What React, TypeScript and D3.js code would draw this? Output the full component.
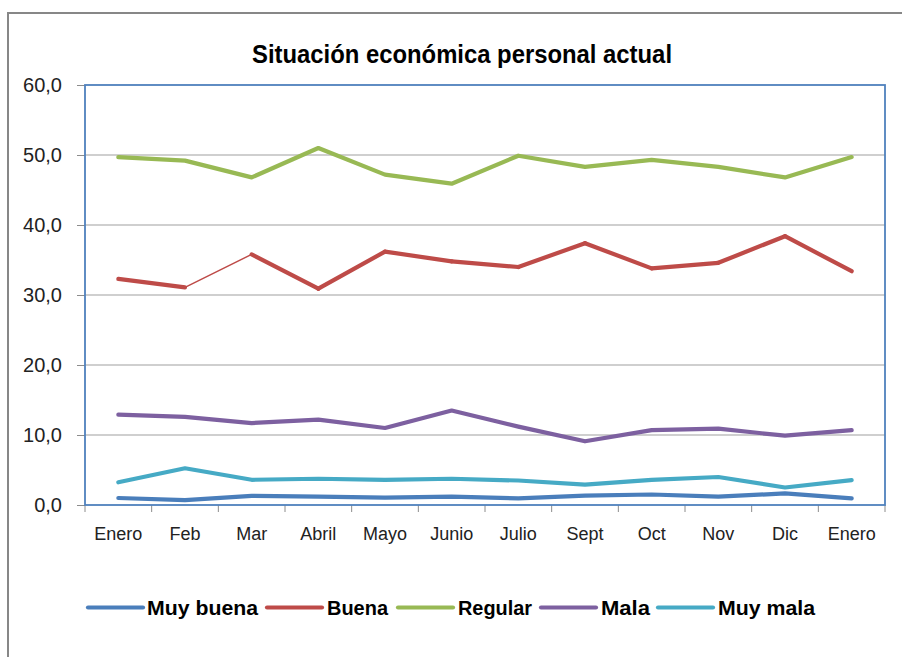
import { useEffect, useRef } from "react";
import * as d3 from "d3";

// Meses (eje X)
const months = ["Enero", "Feb", "Mar", "Abril", "Mayo", "Junio", "Julio", "Sept", "Oct", "Nov", "Dic", "Enero"];

// Series
const muyBuena = [1.0, 0.7, 1.3, 1.2, 1.05, 1.2, 0.95, 1.35, 1.5, 1.2, 1.65, 0.95];
const buena = [32.3, 31.1, 35.8, 30.9, 36.2, 34.8, 34.0, 37.4, 33.8, 34.6, 38.4, 33.4];
const regular = [49.7, 49.2, 46.8, 51.0, 47.2, 45.9, 49.9, 48.3, 49.3, 48.3, 46.8, 49.7];
const mala = [12.9, 12.6, 11.7, 12.2, 11.0, 13.5, 11.2, 9.1, 10.7, 10.9, 9.9, 10.7];
const muyMala = [3.25, 5.25, 3.6, 3.75, 3.6, 3.75, 3.5, 2.9, 3.6, 4.0, 2.5, 3.55];

const seriesNames = ["Muy buena", "Buena", "Regular", "Mala", "Muy mala"];
const yTicks = [0, 10, 20, 30, 40, 50, 60];

const colors = ["#4A7EBB", "#BE4B48", "#98B954", "#7D60A0", "#46AAC5"];

export default function App() {
  const ref = useRef<SVGSVGElement>(null);

  useEffect(() => {
    if (!ref.current) return;
    const svg = d3.select(ref.current);
    svg.selectAll("*").remove();

    const W = 902;
    const H = 657;
    const left = 85, right = 885, top = 85, bottom = 505;
    const font = "'Liberation Sans', Arial, sans-serif";

    svg.append("rect").attr("width", W).attr("height", H).attr("fill", "#fff");

    // borde del gráfico
    svg
      .append("rect")
      .attr("x", 8)
      .attr("y", 13)
      .attr("width", 1000)
      .attr("height", 1000)
      .attr("fill", "none")
      .attr("stroke", "#878787")
      .attr("stroke-width", 2);

    // título
    svg
      .append("text")
      .attr("x", 252)
      .attr("y", 63)
      .attr("textLength", 420)
      .attr("lengthAdjust", "spacingAndGlyphs")
      .attr("font-family", font)
      .attr("font-weight", "bold")
      .attr("font-size", 25)
      .attr("fill", "#000")
      .text("Situación económica personal actual");

    const x = d3
      .scaleBand<number>()
      .domain(months.map((_, i) => i))
      .range([left, right]);

    const y = d3.scaleLinear().domain([0, 60]).range([bottom, top]);

    // líneas de cuadrícula
    svg
      .append("g")
      .selectAll("line")
      .data(yTicks.filter((t) => t > 0 && t < 60))
      .enter()
      .append("line")
      .attr("x1", left)
      .attr("x2", right)
      .attr("y1", (d) => y(d))
      .attr("y2", (d) => y(d))
      .attr("stroke", "#A0A0A0")
      .attr("stroke-width", 1.2);

    // eje Y
    const yAxis = svg
      .append("g")
      .attr("transform", `translate(${left},0)`)
      .call(
        d3
          .axisLeft(y)
          .tickValues(yTicks)
          .tickSize(8)
          .tickPadding(15)
          .tickFormat((d) => d3.format(".1f")(d as number).replace(".", ","))
      );
    yAxis.select(".domain").remove();
    yAxis.selectAll("line").attr("stroke", "#8C8C8C");
    yAxis
      .selectAll("text")
      .attr("font-family", font)
      .attr("font-size", 20)
      .attr("fill", "#222");

    // eje X (marcas entre categorías)
    const xt = svg.append("g");
    xt.selectAll("line")
      .data(d3.range(months.length + 1))
      .enter()
      .append("line")
      .attr("x1", (i) => left + i * x.bandwidth())
      .attr("x2", (i) => left + i * x.bandwidth())
      .attr("y1", bottom)
      .attr("y2", bottom + 7)
      .attr("stroke", "#8C8C8C");
    xt.selectAll("text")
      .data(months)
      .enter()
      .append("text")
      .attr("x", (_, i) => (x(i) || 0) + x.bandwidth() / 2)
      .attr("y", 540)
      .attr("text-anchor", "middle")
      .attr("font-family", font)
      .attr("font-size", 18)
      .attr("fill", "#222")
      .text((d) => d);

    // borde del área de trazado
    svg
      .append("rect")
      .attr("x", left)
      .attr("y", top)
      .attr("width", right - left)
      .attr("height", bottom - top)
      .attr("fill", "none")
      .attr("stroke", "#4F81BD")
      .attr("stroke-width", 1.8);

    const data = [muyBuena, buena, regular, mala, muyMala];
    const cx = (i: number) => (x(i) || 0) + x.bandwidth() / 2;
    const line = d3
      .line<number>()
      .x((_, i) => cx(i))
      .y((d) => y(d));

    data.forEach((vals, s) => {
      if (s === 1) {
        // "Buena": el tramo Feb-Mar es más fino
        vals.slice(1).forEach((v, i) => {
          svg
            .append("path")
            .attr("d", d3.line<[number, number]>()([[cx(i), y(vals[i])], [cx(i + 1), y(v)]]) || "")
            .attr("fill", "none")
            .attr("stroke", colors[s])
            .attr("stroke-width", i === 1 ? 1.5 : 4.2)
            .attr("stroke-linecap", "round");
        });
      } else {
        svg
          .append("path")
          .datum(vals)
          .attr("d", line)
          .attr("fill", "none")
          .attr("stroke", colors[s])
          .attr("stroke-width", 4.2)
          .attr("stroke-linejoin", "round")
          .attr("stroke-linecap", "round");
      }
    });

    // leyenda
    const legendPos = [
      { x: 88, tx: 147, tw: 111 },
      { x: 267, tx: 327, tw: 61 },
      { x: 398, tx: 458, tw: 74 },
      { x: 541, tx: 601, tw: 49 },
      { x: 658, tx: 718, tw: 97 },
    ];
    const lg = svg.append("g");
    seriesNames.forEach((name, i) => {
      const p = legendPos[i];
      lg.append("line")
        .attr("x1", p.x)
        .attr("x2", p.x + 55)
        .attr("y1", 607.5)
        .attr("y2", 607.5)
        .attr("stroke", colors[i])
        .attr("stroke-width", 4.2)
        .attr("stroke-linecap", "round");
      lg.append("text")
        .attr("x", p.tx)
        .attr("y", 614.5)
        .attr("textLength", p.tw)
        .attr("lengthAdjust", "spacingAndGlyphs")
        .attr("font-family", font)
        .attr("font-weight", "bold")
        .attr("font-size", 20)
        .attr("fill", "#000")
        .text(name);
    });
  }, []);

  return (
    <svg
      ref={ref}
      width={902}
      height={657}
      style={{ position: "absolute", left: 0, top: 0, display: "block" }}
    />
  );
}
